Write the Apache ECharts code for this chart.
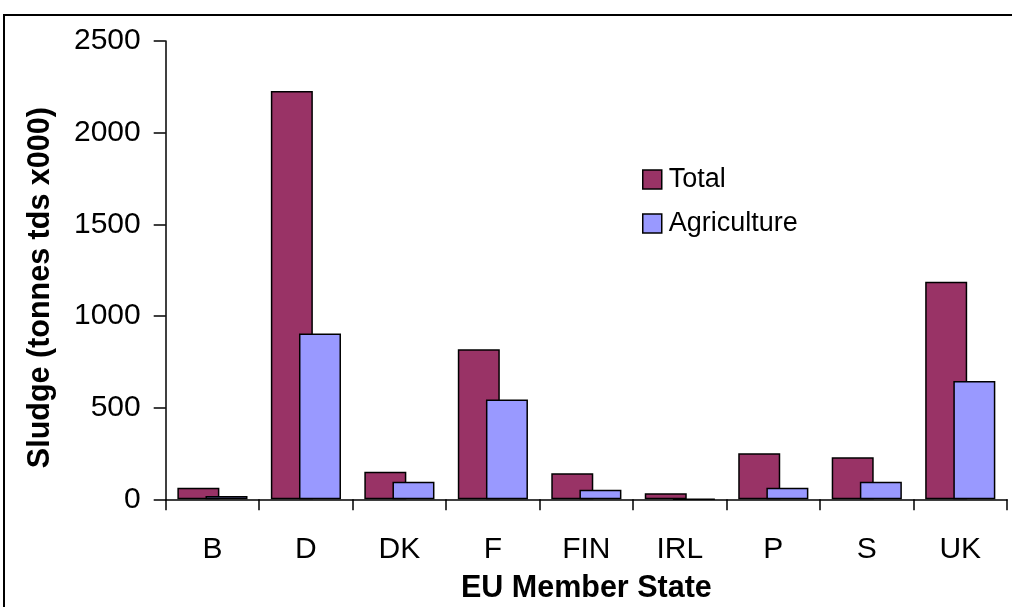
<!DOCTYPE html>
<html>
<head>
<meta charset="utf-8">
<script src="https://cdn.jsdelivr.net/npm/echarts@6/dist/echarts.min.js"></script>
<style>
  html, body { margin: 0; padding: 0; background: #fff; }
  #chart { width: 1012px; height: 607px; }
</style>
</head>
<body>
<div id="chart"></div>
<script>
// Sewage sludge production and agricultural use per EU member state
const categories = ['B', 'D', 'DK', 'F', 'FIN', 'IRL', 'P', 'S', 'UK'];
const totalValues = [63, 2227, 150, 818, 142, 33, 251, 229, 1187];
const agricultureValues = [18, 905, 96, 545, 52, 0, 63, 96, 645];
const seriesNames = ['Total', 'Agriculture'];
const yTicks = { min: 0, max: 2500, step: 500 };

const FONT = '"Liberation Sans", Arial, sans-serif';

const chart = echarts.init(document.getElementById('chart'), null, { renderer: 'canvas' });

chart.setOption({
  animation: false,
  backgroundColor: '#ffffff',
  graphic: [{
    type: 'rect',
    shape: { x: 4, y: 15, width: 1100, height: 700 },
    style: { fill: 'none', stroke: '#000', lineWidth: 2 },
    silent: true,
    z: 100
  }],
  grid: {
    left: 165.7, right: 5, top: 41, bottom: 107.7,
    containLabel: false,
    outerBoundsMode: 'none'
  },
  legend: {
    orient: 'vertical',
    left: 642,
    top: 166,
    padding: 0,
    itemWidth: 19,
    itemHeight: 19,
    itemGap: 17,
    icon: 'rect',
    textStyle: { fontFamily: FONT, fontSize: 27, color: '#000', padding: [0, 0, 0, 2] },
    itemStyle: { borderColor: '#000', borderWidth: 1.5 },
    data: seriesNames
  },
  xAxis: {
    type: 'category',
    data: categories,
    name: 'EU Member State',
    nameLocation: 'middle',
    nameGap: 74,
    nameTextStyle: { fontFamily: FONT, fontSize: 30.5, fontWeight: 'bold', color: '#000' },
    axisLine: { lineStyle: { color: '#000', width: 1.5 } },
    axisTick: { show: true, length: 11, lineStyle: { color: '#000', width: 1.5 } },
    axisLabel: { fontFamily: FONT, fontSize: 30, color: '#000', margin: 35 },
    splitLine: { show: false }
  },
  yAxis: {
    type: 'value',
    min: yTicks.min,
    max: yTicks.max,
    interval: yTicks.step,
    name: 'Sludge (tonnes tds x000)',
    nameLocation: 'middle',
    nameRotate: 90,
    nameGap: 110,
    nameTextStyle: { fontFamily: FONT, fontSize: 30.5, fontWeight: 'bold', color: '#000', padding: [0, 35, 0, 0] },
    axisLine: { show: true, lineStyle: { color: '#000', width: 1.5 } },
    axisTick: { show: true, length: 12, lineStyle: { color: '#000', width: 1.5 } },
    axisLabel: {
      fontFamily: FONT, fontSize: 30, color: '#000', margin: 25,
      padding: [9, 0, 0, 0],
      formatter: (v) => String(v)
    },
    splitLine: { show: false }
  },
  series: [
    {
      name: seriesNames[0],
      type: 'bar',
      data: totalValues,
      barWidth: 42,
      barGap: '-33%',
      itemStyle: { color: '#993366', borderColor: '#000', borderWidth: 1.5 }
    },
    {
      name: seriesNames[1],
      type: 'bar',
      data: agricultureValues,
      barWidth: 42,
      barGap: '-33%',
      itemStyle: { color: '#9999ff', borderColor: '#000', borderWidth: 1.5 }
    }
  ]
});
</script>
</body>
</html>
